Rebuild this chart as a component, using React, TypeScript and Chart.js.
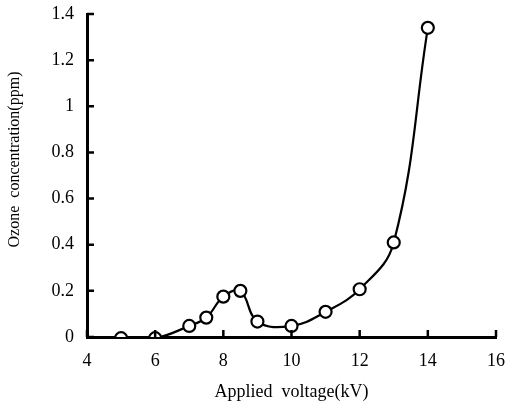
import React, { useEffect, useRef } from "react";
import { Chart, registerables } from "chart.js";

Chart.register(...registerables);

const voltage: number[] = [5, 6, 7, 7.5, 8, 8.5, 9, 10, 11, 12, 13, 14];
const ozone: number[] = [-0.005, -0.005, 0.048, 0.084, 0.175, 0.2, 0.067, 0.048, 0.109, 0.207, 0.41, 1.34];
const xTicks: number[] = [4, 6, 8, 10, 12, 14, 16];
const yTicks: number[] = [0, 0.2, 0.4, 0.6, 0.8, 1, 1.2, 1.4];

const FONT = "'Liberation Serif', 'DejaVu Serif', serif";

const inwardTicks = {
  id: "inwardTicks",
  afterDatasetsDraw(chart: any) {
    const ctx = chart.ctx;
    const xs = chart.scales.x;
    const ys = chart.scales.y;
    const left = ys.right;
    const bottom = xs.top;
    ctx.save();
    ctx.strokeStyle = "#000";
    ctx.lineWidth = 2.5;
    ctx.beginPath();
    for (const v of yTicks) {
      const py = ys.getPixelForValue(v);
      ctx.moveTo(left, py);
      ctx.lineTo(left + 7, py);
    }
    for (const v of xTicks) {
      const px = xs.getPixelForValue(v);
      ctx.moveTo(px, bottom);
      ctx.lineTo(px, bottom - 7);
    }
    ctx.stroke();
    ctx.restore();
  },
};

export default function App() {
  const ref = useRef<HTMLCanvasElement | null>(null);
  useEffect(() => {
    document.body.style.margin = "0";
    const canvas = ref.current;
    if (!canvas) return;
    const chart = new Chart(canvas, {
      type: "line",
      data: {
        datasets: [
          {
            data: voltage.map((x, i) => ({ x, y: ozone[i] })),
            borderColor: "#000",
            borderWidth: 2.2,
            backgroundColor: "#fff",
            pointBackgroundColor: "#fff",
            pointBorderColor: "#000",
            pointBorderWidth: 2.2,
            pointRadius: 6,
            tension: 0.4,
            fill: false,
          },
        ],
      },
      options: {
        animation: false,
        responsive: false,
        devicePixelRatio: 1,
        layout: { padding: { top: 14, right: 10, left: 0, bottom: 0 } },
        plugins: { legend: { display: false }, tooltip: { enabled: false } },
        scales: {
          x: {
            type: "linear",
            min: 4,
            max: 16,
            afterBuildTicks: (s: any) => {
              s.ticks = xTicks.map((v) => ({ value: v }));
            },
            afterFit: (s: any) => {
              s.height = 66;
              s.paddingLeft = 0;
              s.paddingRight = 0;
            },
            border: { display: true, color: "#000", width: 3 },
            grid: { display: false, drawTicks: false },
            ticks: {
              color: "#000",
              padding: 13,
              font: { family: FONT, size: 18 },
            },
            title: {
              display: true,
              text: "Applied  voltage(kV)",
              color: "#000",
              font: { family: FONT, size: 18 },
              padding: { top: 8, bottom: 0 },
            },
          },
          y: {
            type: "linear",
            min: 0,
            max: 1.4,
            afterBuildTicks: (s: any) => {
              s.ticks = yTicks.map((v) => ({ value: v }));
            },
            afterFit: (s: any) => {
              s.width = 87;
              s.paddingTop = 0;
              s.paddingBottom = 0;
            },
            border: { display: true, color: "#000", width: 3 },
            grid: { display: false, drawTicks: false },
            ticks: {
              color: "#000",
              padding: 13,
              font: { family: FONT, size: 18 },
              callback: (v: any) => String(Math.round(Number(v) * 10) / 10),
            },
            title: {
              display: true,
              text: "        Ozone  concentration(ppm)",
              color: "#000",
              font: { family: FONT, size: 16 },
              padding: { top: 5, bottom: 4 },
            },
          },
        },
      },
      plugins: [inwardTicks],
    });
    return () => chart.destroy();
  }, []);
  return (
    <div style={{ width: 506, height: 403, background: "#fff" }}>
      <canvas ref={ref} width={506} height={403} />
    </div>
  );
}
